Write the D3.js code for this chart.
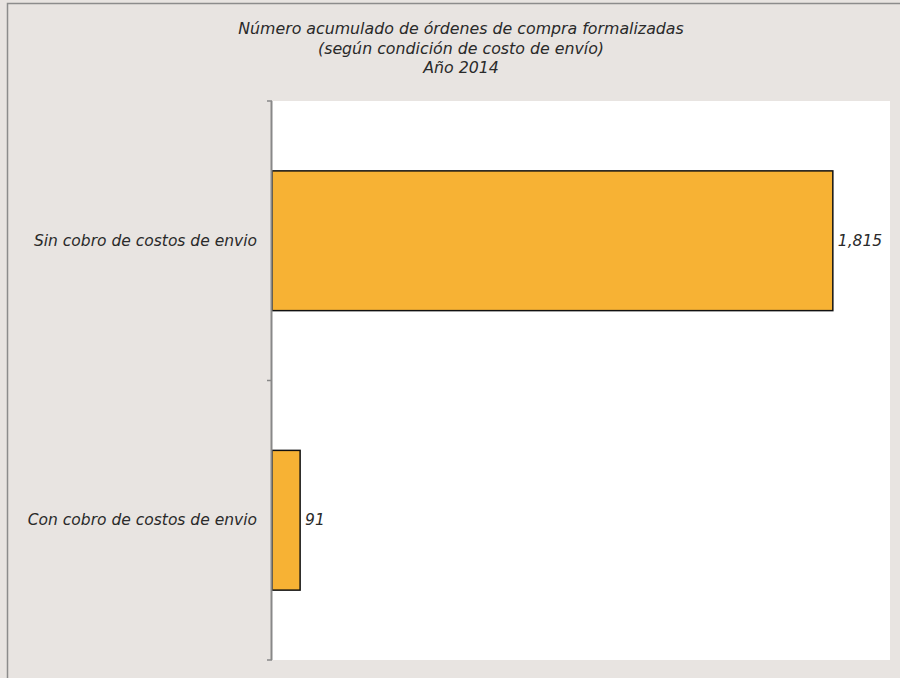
<!DOCTYPE html>
<html>
<head>
<meta charset="utf-8">
<script src="https://cdn.jsdelivr.net/npm/d3@7"></script>
<style>
  body { margin: 0; background: #e8e4e1; }
  svg { display: block; font-family: "DejaVu Sans", sans-serif; font-style: italic; }
</style>
</head>
<body>
<div id="chart"></div>
<script>
const categories = ['Sin cobro de costos de envio', 'Con cobro de costos de envio'];
const values = [1815, 91];
const titleLines = ['Número acumulado de órdenes de compra formalizadas', '(según condición de costo de envío)', 'Año 2014'];

const width = 900;
const height = 678;
const plotLeft = 272, plotRight = 890, plotTop = 101, plotBottom = 660;

const svg = d3.select('#chart').append('svg').attr('width', width).attr('height', height);

// outer frame
svg.append('rect').attr('x', 7.5).attr('y', 3.5).attr('width', 1000).attr('height', 1000)
  .attr('fill', '#e8e4e1').attr('stroke', '#8c8c8c').attr('stroke-width', 1.5);

// plot area
svg.append('rect').attr('x', plotLeft).attr('y', plotTop).attr('width', plotRight - plotLeft).attr('height', plotBottom - plotTop).attr('fill', '#fff');

const x = d3.scaleLinear().domain([0, 2000]).range([plotLeft, plotRight]);
const y = d3.scaleBand().domain(categories).range([plotTop, plotBottom]).paddingInner(0.5).paddingOuter(0.25);

// title
svg.append('g').selectAll('text').data(titleLines).enter().append('text')
  .attr('x', 461).attr('y', (d, i) => 34 + i * 19.5)
  .attr('text-anchor', 'middle').attr('font-size', 15.8).attr('fill', '#2a2a2a').text(d => d);

// bars
svg.append('g').selectAll('rect').data(values).enter().append('rect')
  .attr('x', x(0)).attr('y', (d, i) => y(categories[i]))
  .attr('width', d => x(d) - x(0)).attr('height', y.bandwidth())
  .attr('fill', '#f7b234').attr('stroke', '#111').attr('stroke-width', 1.5);

// value labels
svg.append('g').selectAll('text').data(values).enter().append('text')
  .attr('x', d => x(d) + 5).attr('y', (d, i) => y(categories[i]) + y.bandwidth() / 2 + 5)
  .attr('font-size', 15.5).attr('fill', '#2a2a2a').text(d => d3.format(',')(d));

// category axis
const edges = d3.range(categories.length + 1).map(i => plotTop + i * (plotBottom - plotTop) / categories.length);
const axis = svg.append('g');
axis.append('line').attr('x1', plotLeft - 0.5).attr('x2', plotLeft - 0.5).attr('y1', plotTop).attr('y2', plotBottom)
  .attr('stroke', '#888').attr('stroke-width', 2);
axis.selectAll('.tick').data(edges).enter().append('line')
  .attr('x1', plotLeft - 5).attr('x2', plotLeft).attr('y1', d => d).attr('y2', d => d)
  .attr('stroke', '#888').attr('stroke-width', 1.5);
axis.selectAll('.lbl').data(categories).enter().append('text')
  .attr('x', 257).attr('y', d => y(d) + y.bandwidth() / 2 + 5)
  .attr('text-anchor', 'end').attr('font-size', 15.5).attr('fill', '#2a2a2a').text(d => d);
</script>
</body>
</html>
